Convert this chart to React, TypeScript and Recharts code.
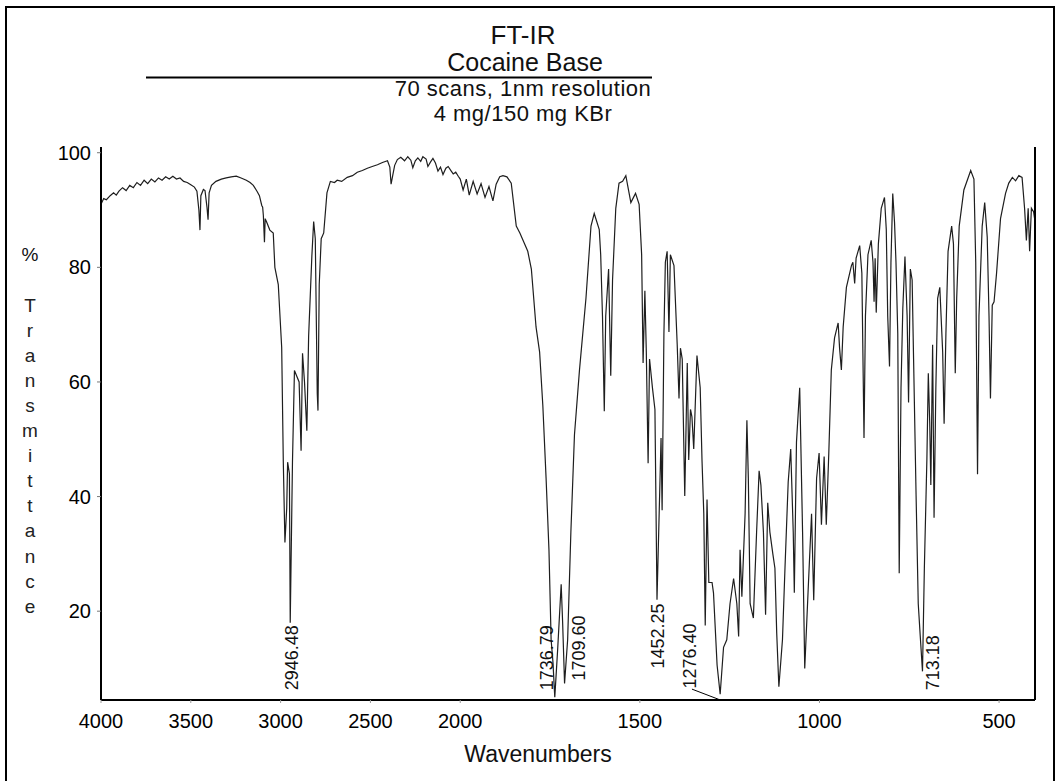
import React from "react";
import { LineChart, Line, XAxis, YAxis, ReferenceLine, ReferenceDot } from "recharts";

// spectrum, wavenumber (cm-1) and %T
const wavenumber = [
  4000, 3985, 3970, 3949, 3930, 3915, 3900, 3880, 3860, 3840, 3820, 3800, 3780, 3760, 3740, 3720,
  3700, 3680, 3660, 3640, 3620, 3600, 3580, 3560, 3540, 3520, 3500, 3480, 3466, 3455, 3449, 3444,
  3430, 3421, 3410, 3404, 3398, 3385, 3360, 3330, 3303, 3275, 3247, 3220, 3191, 3170, 3152, 3130,
  3118, 3105,
  3100, 3096, 3090, 3086, 3079, 3060, 3041, 3032, 3013, 2994, 2985, 2976, 2966, 2961, 2951, 2946.48,
  2934, 2923, 2910, 2897, 2886, 2878, 2867, 2854, 2844, 2826, 2816, 2807, 2796, 2792, 2785, 2774,
  2760, 2742, 2723,
  2700, 2685, 2660, 2629, 2600, 2573, 2545, 2517, 2490, 2461, 2433, 2405, 2392, 2385, 2376, 2365,
  2350, 2331, 2310, 2292, 2275, 2264, 2250, 2236, 2220, 2208, 2190, 2180, 2165, 2152, 2138, 2124,
  2110, 2096, 2080, 2067, 2050, 2039, 2025, 2011, 2000, 1992, 1983, 1975, 1964, 1953, 1942, 1931,
  1920, 1909, 1900, 1890, 1881,
  1870, 1858, 1844, 1834, 1821, 1812, 1802, 1789, 1779, 1770, 1761, 1753, 1747, 1742, 1736.79, 1729,
  1719, 1715, 1709.6, 1701, 1692, 1682, 1668, 1650, 1636, 1627, 1613, 1609, 1604, 1599, 1595, 1587,
  1584, 1581, 1576, 1567, 1558, 1548, 1539, 1525, 1512, 1502, 1495, 1491, 1486, 1482, 1477, 1473,
  1465, 1458, 1452.25, 1445, 1441, 1438, 1433, 1429, 1424, 1419, 1415, 1405, 1396, 1391, 1387, 1382,
  1375, 1368, 1364, 1359, 1355, 1350, 1341, 1332, 1327, 1322, 1318, 1313, 1308, 1299, 1295, 1285,
  1276.4, 1267, 1258, 1249, 1239, 1230, 1225, 1221, 1216, 1207, 1202, 1198, 1193, 1184, 1175, 1168,
  1163, 1156, 1150, 1144, 1138, 1130, 1124, 1119, 1113, 1103, 1096, 1087, 1080, 1073, 1070, 1064,
  1055, 1047, 1041, 1031, 1022, 1016, 1008, 1001, 994.5, 987, 981, 974, 967, 958, 948, 944,
  939, 934, 925, 911, 907, 902, 898, 888, 882, 876, 872, 865, 856, 851, 848, 845,
  842, 836, 828, 819, 814, 810, 805, 801, 796, 791, 787, 782, 778, 773, 768, 762,
  756, 752, 747, 742, 738, 731, 725, 720, 713.18, 708, 701, 697, 693, 690, 685, 681,
  676, 671, 665, 657, 653, 648, 642, 632, 627, 622, 618, 611, 598, 579, 570, 565,
  560, 556, 547, 540, 533, 528, 524, 519, 514, 507, 496, 482, 473, 463, 454, 445,
  436, 429, 424, 419, 415, 410, 404, 400,
];

const transmittance = [
  91.0, 92.0, 91.8, 92.5, 93.0, 92.6, 93.3, 93.9, 93.4, 94.3, 93.9, 94.8, 94.3, 95.2, 94.6, 95.4,
  94.9, 95.6, 95.2, 95.8, 95.4, 95.9, 95.4, 95.6, 95.0, 94.8, 94.4, 94.0, 93.3, 90.0, 86.5, 92.5,
  93.6, 93.4, 90.5, 88.3, 93.0, 94.3, 95.0, 95.4, 95.6, 95.8, 95.9, 95.6, 95.2, 94.8, 94.3, 93.2,
  92.5, 90.8,
  90.5, 89.0, 84.4, 88.5, 88.0, 86.5, 86.0, 80.0, 77.0, 66.0, 46.0, 32.0, 38.0, 46.0, 44.0, 18.0,
  46.0, 62.0, 61.0, 60.0, 48.0, 65.0, 60.0, 51.5, 68.0, 82.0, 88.0, 85.0, 58.0, 55.0, 77.0, 85.0,
  86.0, 93.0, 95.0,
  94.8, 95.2, 95.0, 95.7, 96.0, 96.6, 96.9, 97.3, 97.6, 97.9, 98.3, 98.6, 97.5, 94.5, 96.0, 97.8,
  98.8, 99.2, 98.6, 99.3, 98.7, 97.4, 98.6, 99.1, 98.5, 99.3, 98.9, 97.6, 98.4, 99.0, 98.2, 96.8,
  97.5, 96.2, 97.3, 97.6, 96.8, 96.3, 96.6, 95.9, 95.4, 93.5, 95.4, 92.6, 95.0, 92.8, 94.6, 92.2,
  94.1, 91.6, 94.5, 95.8, 96.0,
  95.8, 94.7, 87.2, 86.0, 84.1, 82.8, 79.7, 69.6, 65.2, 55.8, 43.2, 30.7, 15.0, 11.2, 5.0, 13.1,
  24.7, 18.1, 7.4, 15.0, 33.8, 50.8, 62.1, 74.6, 87.2, 89.4, 86.6, 82.2, 71.5, 54.9, 71.5, 79.7,
  70.3, 61.1, 77.8, 90.3, 94.7, 95.0, 96.0, 91.3, 92.9, 91.0, 82.2, 63.3, 75.9, 65.2, 45.8, 64.0,
  59.0, 55.2, 22.0, 40.1, 50.2, 37.6, 68.4, 80.9, 82.8, 68.7, 82.2, 80.3, 66.5, 57.1, 65.9, 64.0,
  40.1, 63.3, 46.4, 55.2, 53.9, 48.3, 64.6, 59.0, 46.4, 37.0, 17.5, 39.5, 25.0, 25.0, 23.2, 10.6,
  5.5, 13.7, 15.0, 21.3, 25.7, 21.3, 15.6, 30.7, 22.5, 37.0, 53.3, 43.2, 21.3, 18.8, 33.8, 44.5,
  42.0, 33.8, 19.4, 38.9, 33.8, 30.1, 27.5, 16.2, 6.8, 15.0, 27.5, 42.6, 48.3, 33.8, 23.2, 49.5,
  59.0, 33.8, 10.0, 24.4, 37.0, 21.9, 43.2, 47.6, 35.1, 47.0, 35.1, 47.6, 62.1, 67.7, 70.3, 65.9,
  62.1, 69.6, 76.5, 80.3, 80.9, 77.2, 81.6, 83.8, 79.0, 50.2, 71.5, 82.2, 84.7, 80.9, 74.0, 81.6,
  72.1, 84.1, 90.3, 92.2, 86.6, 71.5, 62.7, 80.9, 92.9, 87.8, 80.9, 68.4, 26.6, 59.0, 72.8, 81.9,
  71.5, 56.4, 79.7, 77.8, 64.0, 40.1, 21.3, 16.2, 9.5, 27.5, 46.4, 61.5, 52.7, 42.0, 66.5, 36.3,
  59.0, 74.6, 76.5, 65.2, 52.7, 68.4, 82.8, 87.2, 84.1, 61.5, 74.6, 87.2, 93.5, 96.9, 95.4, 80.9,
  43.9, 71.5, 87.2, 91.3, 85.3, 71.5, 57.1, 73.4, 74.0, 79.0, 88.5, 92.9, 94.7, 95.7, 95.1, 96.0,
  95.7, 90.3, 84.7, 90.3, 82.8, 90.3, 89.7, 88.0,
];

const xTicks = [4000, 3500, 3000, 2500, 2000, 1500, 1000, 500];
const yTicks = [20, 40, 60, 80, 100];

// peak annotations: text, where the label sits (wavenumber) and its lower end (%T)
const peakText = ["2946.48", "1736.79", "1709.60", "1452.25", "1276.40", "713.18"];
const peakLabelWn = [2941, 1760, 1670, 1452, 1363, 684];
const peakLabelBottom = [6.2, 6.2, 7.9, 10.0, 6.5, 6.2];

const leaderWn = [1355, 1280];
const leaderT = [6.4, 4.6];

const titleLines = ["FT-IR", "Cocaine Base", "70 scans, 1nm resolution", "4 mg/150 mg KBr"];
const yLabelLetters = "Transmittance".split("");

const FONT = '"Liberation Sans", Arial, sans-serif';

// x axis is expanded 2x below 2000 cm-1, so plot against a piecewise position
const toU = (w: number) => (w >= 2000 ? (4000 - w) / 2 : 1000 + (2000 - w));
const fromU = (u: number) => (u <= 1000 ? 4000 - 2 * u : 2000 - (u - 1000));

const rows = wavenumber.map((w, i) => ({ u: toU(w), t: transmittance[i] }));

const PeakLabel = (props: any) => {
  const { cx, cy, text } = props;
  if (cx == null || cy == null) return null;
  const x = cx + 6.5;
  return (
    <text
      x={x}
      y={cy}
      transform={`rotate(-90 ${x} ${cy})`}
      textAnchor="start"
      fontSize={18}
      fontFamily={FONT}
      fill="#111"
    >
      {text}
    </text>
  );
};

const App: React.FC = () => {
  return (
    <div style={{ position: "absolute", left: 0, top: 0, width: 1061, height: 781, background: "#fff" }}>
      <LineChart
        width={1061}
        height={781}
        data={rows}
        margin={{ top: 147, right: 26, bottom: 51, left: 61 }}
      >
        <XAxis
          dataKey="u"
          type="number"
          domain={[0, 2600]}
          ticks={xTicks.map(toU)}
          tickFormatter={(v: number) => String(Math.round(fromU(v)))}
          interval={0}
          height={30}
          tickSize={3}
          tickMargin={11}
          axisLine={{ stroke: "#000", strokeWidth: 2 }}
          tickLine={{ stroke: "#999" }}
          tick={{ fill: "#000", fontSize: 20, fontFamily: FONT }}
          allowDataOverflow
        />
        <YAxis
          type="number"
          domain={[4.5, 101]}
          ticks={yTicks}
          interval={0}
          width={40}
          tickSize={4}
          tickMargin={6}
          axisLine={{ stroke: "#000", strokeWidth: 2 }}
          tickLine={{ stroke: "#777" }}
          tick={{ fill: "#000", fontSize: 20, fontFamily: FONT }}
          allowDataOverflow
        />
        <Line
          dataKey="t"
          type="linear"
          stroke="#1e1e1e"
          strokeWidth={1.2}
          dot={false}
          isAnimationActive={false}
        />
        <ReferenceLine x={2600} stroke="#000" strokeWidth={2} />
        <ReferenceLine
          segment={[
            { x: toU(leaderWn[0]), y: leaderT[0] },
            { x: toU(leaderWn[1]), y: leaderT[1] },
          ]}
          stroke="#000"
          strokeWidth={1}
        />
        {peakText.map((txt, i) => (
          <ReferenceDot
            key={txt}
            x={toU(peakLabelWn[i])}
            y={peakLabelBottom[i]}
            r={0}
            ifOverflow="visible"
            shape={(p: any) => <PeakLabel {...p} text={txt} />}
          />
        ))}
      </LineChart>

      <svg
        width={1061}
        height={781}
        style={{ position: "absolute", left: 0, top: 0, pointerEvents: "none" }}
      >
        <rect x={6} y={7} width={1048} height={800} fill="none" stroke="#000" strokeWidth={2} />
        <g fontFamily={FONT} fill="#111" textAnchor="middle">
          <text x={523} y={44} fontSize={26}>{titleLines[0]}</text>
          <text x={525} y={70.5} fontSize={25}>{titleLines[1]}</text>
          <text x={523} y={96} fontSize={22} letterSpacing={0.5}>{titleLines[2]}</text>
          <text x={523} y={121} fontSize={22} letterSpacing={0.5}>{titleLines[3]}</text>
          <text x={538} y={762} fontSize={23}>Wavenumbers</text>
          <text x={30} y={254} fontSize={19} dominantBaseline="central">%</text>
          {yLabelLetters.map((ch, i) => (
            <text key={i} x={30} y={305 + i * 25.1} fontSize={19} dominantBaseline="central" fill="#222">
              {ch}
            </text>
          ))}
        </g>
        <line x1={146} x2={652} y1={77.5} y2={77.5} stroke="#000" strokeWidth={2} />
      </svg>
    </div>
  );
};

export default App;
